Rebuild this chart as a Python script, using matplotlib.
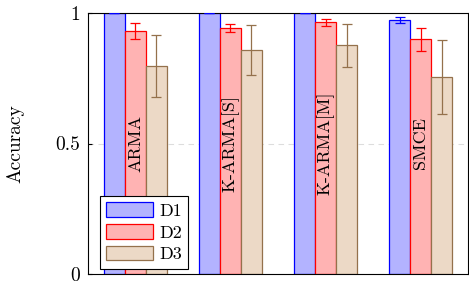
import matplotlib
matplotlib.use("Agg")
import matplotlib.pyplot as plt
import numpy as np

plt.rcParams['font.family'] = ['cmr10', 'DejaVu Serif']
plt.rcParams['mathtext.fontset'] = 'cm'
plt.rcParams['axes.unicode_minus'] = False

methods = ["ARMA", "K-ARMA[S]", "K-ARMA[M]", "SMCE"]
series = ["D1", "D2", "D3"]
d1 = [1.0, 1.0, 1.0, 0.973]
d1_err = [0.0, 0.0, 0.0, 0.013]
d2 = [0.931, 0.943, 0.964, 0.900]
d2_err = [0.030, 0.015, 0.013, 0.044]
d3 = [0.797, 0.858, 0.877, 0.755]
d3_err = [0.120, 0.096, 0.082, 0.142]
yticks = [0, 0.5, 1]
yticklabels = ["0", "0.5", "1"]

fills = ["#b3b3ff", "#ffb3b3", "#ecd9c6"]
edges = ["#0000ff", "#ff0000", "#94714c"]

fig = plt.figure(figsize=(4.69, 2.89), dpi=100)
ax = fig.add_axes([0.1876, 0.0519, 0.8103, 0.9031])

x = np.arange(len(methods))
w = 0.221
for i, (vals, errs) in enumerate([(d1, d1_err), (d2, d2_err), (d3, d3_err)]):
    pos = x + (i - 1) * w
    ax.bar(pos, vals, width=w, color=fills[i], edgecolor=edges[i], linewidth=0.9,
           label=series[i], zorder=2)
    ax.errorbar(pos, vals, yerr=errs, fmt='none', ecolor=edges[i], elinewidth=0.9,
                capsize=3.5, capthick=0.9, zorder=3)

for xi, m in zip(x, methods):
    ax.text(xi, 0.5, m, rotation=90, ha='center', va='center', fontsize=13, zorder=4)

ax.set_xlim(-0.5, 3.5)
ax.set_ylim(0, 1)
ax.set_yticks(yticks)
ax.set_yticklabels(yticklabels, fontsize=14)
ax.set_xticks(x)
ax.set_xticklabels([])
ax.tick_params(axis='x', length=0)
ax.tick_params(axis='y', direction='in', length=3, pad=6)
ax.yaxis.grid(True, linestyle=(0, (5, 4)), color='#dddddd', linewidth=0.8, zorder=0)
ax.set_axisbelow(True)
ax.set_ylabel("Accuracy", fontsize=14, labelpad=22)
for s in ax.spines.values():
    s.set_linewidth(0.8)

leg = ax.legend(loc='lower left', bbox_to_anchor=(0.031, 0.02), borderaxespad=0,
                fontsize=13, fancybox=False, edgecolor='black', framealpha=1,
                handlelength=2.6, handleheight=0.85, borderpad=0.35, labelspacing=0.3,
                handletextpad=0.35)
leg.get_frame().set_linewidth(0.8)

fig.savefig("out.png", dpi=100)
